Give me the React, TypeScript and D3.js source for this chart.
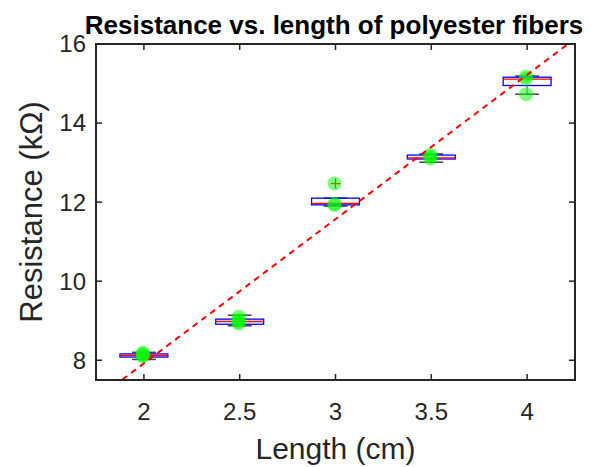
import React, { useEffect, useRef } from "react";
import * as d3 from "d3";

// box plot groups (length in cm) and their summary stats (kOhm)
const lengths = [2, 2.5, 3, 3.5, 4];
const q1 = [8.08, 8.91, 11.93, 13.09, 14.95];
const medians = [8.12, 8.98, 11.97, 13.12, 15.11];
const q3 = [8.16, 9.04, 12.1, 13.19, 15.16];
const whiskerLow = [8.02, 8.87, 11.9, 13.01, 14.73];
const whiskerHigh = [8.2, 9.14, 12.1, 13.22, 15.19];
const outliers = [[], [], [12.47], [], []];
// raw measurements shown as green dots
const samples = [
  [8.19, 8.15, 8.12, 8.1],
  [9.1, 9.02, 8.97, 8.93],
  [12.47, 11.95, 11.93],
  [13.2, 13.15, 13.1],
  [15.18, 15.12, 14.73],
];
// linear fit through the data
const fitSlope = 3.65;
const fitIntercept = 0.62;

const xTicks = [2, 2.5, 3, 3.5, 4];
const yTicks = [8, 10, 12, 14, 16];

const W = 591, H = 467;
const margin = { left: 96, right: 16, top: 44, bottom: 87 };

export default function App() {
  const ref = useRef<SVGSVGElement>(null);

  useEffect(() => {
    const svg = d3.select(ref.current);
    svg.selectAll("*").remove();
    const iw = W - margin.left - margin.right;
    const ih = H - margin.top - margin.bottom;
    const x = d3.scaleLinear().domain([1.75, 4.25]).range([margin.left, margin.left + iw]);
    const y = d3.scaleLinear().domain([7.5, 16]).range([margin.top + ih, margin.top]);
    const font = "'Liberation Sans', Arial, Helvetica, sans-serif";
    const axisCol = "#262626";

    svg.append("defs").append("clipPath").attr("id", "plotclip")
      .append("rect").attr("x", margin.left).attr("y", margin.top).attr("width", iw).attr("height", ih);

    const boxW = 0.25;
    const capW = boxW / 2;
    const g = svg.append("g");

    lengths.forEach((L, i) => {
      // whiskers
      g.append("line").attr("x1", x(L)).attr("x2", x(L))
        .attr("y1", y(q3[i])).attr("y2", y(whiskerHigh[i]))
        .attr("stroke", "#555").attr("stroke-width", 1);
      g.append("line").attr("x1", x(L)).attr("x2", x(L))
        .attr("y1", y(q1[i])).attr("y2", y(whiskerLow[i]))
        .attr("stroke", "#555").attr("stroke-width", 1);
      // caps
      [whiskerLow[i], whiskerHigh[i]].forEach(v => {
        g.append("line").attr("x1", x(L - capW / 2)).attr("x2", x(L + capW / 2))
          .attr("y1", y(v)).attr("y2", y(v))
          .attr("stroke", "#444").attr("stroke-width", 1.5);
      });
      // box
      g.append("rect").attr("x", x(L - boxW / 2)).attr("width", x(L + boxW / 2) - x(L - boxW / 2))
        .attr("y", y(q3[i])).attr("height", y(q1[i]) - y(q3[i]))
        .attr("fill", "none").attr("stroke", "#0000ff").attr("stroke-width", 1.3);
      g.append("line").attr("x1", x(L - boxW / 2)).attr("x2", x(L + boxW / 2))
        .attr("y1", y(medians[i])).attr("y2", y(medians[i]))
        .attr("stroke", "#ff0000").attr("stroke-width", 1.3);
      // outliers
      outliers[i].forEach(v => {
        const cx = x(L), cy = y(v), s = 5;
        g.append("path").attr("d", `M${cx - s},${cy}H${cx + s}M${cx},${cy - s}V${cy + s}`)
          .attr("stroke", "#ff0000").attr("stroke-width", 1.2);
      });
      // samples
      samples[i].forEach(v => {
        g.append("circle").attr("cx", x(L) - 1).attr("cy", y(v)).attr("r", 7)
          .attr("fill", "#00ff00").attr("fill-opacity", 0.5);
      });
    });

    // fit line
    const [x0, x1] = x.domain();
    svg.append("line").attr("clip-path", "url(#plotclip)")
      .attr("x1", x(x0)).attr("y1", y(fitSlope * x0 + fitIntercept))
      .attr("x2", x(x1)).attr("y2", y(fitSlope * x1 + fitIntercept))
      .attr("stroke", "#ff0000").attr("stroke-width", 2).attr("stroke-dasharray", "6,5");

    // axes box
    svg.append("rect").attr("x", margin.left).attr("y", margin.top).attr("width", iw).attr("height", ih)
      .attr("fill", "none").attr("stroke", axisCol).attr("stroke-width", 2);

    const tl = 6;
    xTicks.forEach(t => {
      svg.append("line").attr("x1", x(t)).attr("x2", x(t)).attr("y1", margin.top + ih).attr("y2", margin.top + ih - tl)
        .attr("stroke", axisCol).attr("stroke-width", 1.5);
      svg.append("line").attr("x1", x(t)).attr("x2", x(t)).attr("y1", margin.top).attr("y2", margin.top + tl)
        .attr("stroke", axisCol).attr("stroke-width", 1.5);
      svg.append("text").attr("x", x(t)).attr("y", 420).attr("text-anchor", "middle")
        .attr("font-family", font).attr("font-size", 24).attr("fill", axisCol).text(String(t));
    });
    yTicks.forEach(t => {
      svg.append("line").attr("x1", margin.left).attr("x2", margin.left + tl).attr("y1", y(t)).attr("y2", y(t))
        .attr("stroke", axisCol).attr("stroke-width", 1.5);
      svg.append("line").attr("x1", margin.left + iw).attr("x2", margin.left + iw - tl).attr("y1", y(t)).attr("y2", y(t))
        .attr("stroke", axisCol).attr("stroke-width", 1.5);
      svg.append("text").attr("x", 86).attr("y", y(t)).attr("dy", "0.35em").attr("text-anchor", "end")
        .attr("font-family", font).attr("font-size", 24).attr("fill", axisCol).text(String(t));
    });

    svg.append("text").attr("x", x(3)).attr("y", 459).attr("text-anchor", "middle")
      .attr("font-family", font).attr("font-size", 30).attr("fill", axisCol).text("Length (cm)");
    svg.append("text").attr("transform", `translate(42,${margin.top + ih / 2}) rotate(-90)`)
      .attr("text-anchor", "middle")
      .attr("font-family", font).attr("font-size", 31).attr("fill", axisCol).text("Resistance (kΩ)");
    svg.append("text").attr("x", 334).attr("y", 34).attr("text-anchor", "middle")
      .attr("font-family", font).attr("font-size", 26).attr("font-weight", "bold").attr("fill", "#000")
      .text("Resistance vs. length of polyester fibers");
  }, []);

  return (
    <svg ref={ref} width={W} height={H} style={{ position: "absolute", left: 0, top: 0, background: "#fff" }} />
  );
}
